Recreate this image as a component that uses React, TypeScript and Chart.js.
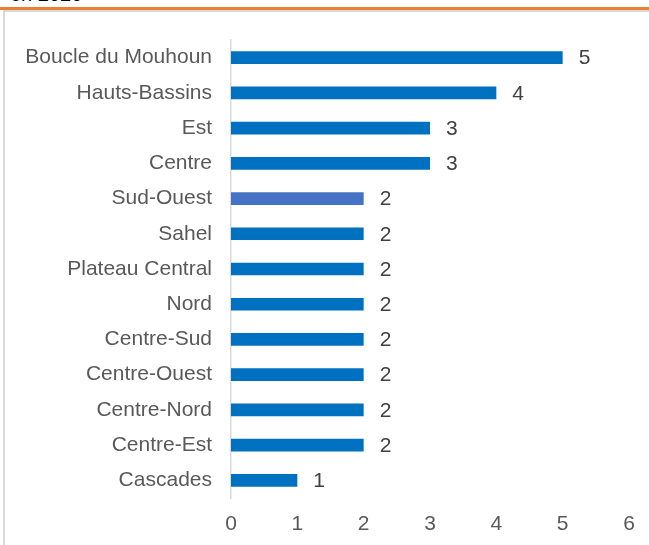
import React, { useEffect, useRef } from "react";
import { Chart, registerables } from "chart.js";

Chart.register(...registerables);

const categories = [
  "Boucle du Mouhoun",
  "Hauts-Bassins",
  "Est",
  "Centre",
  "Sud-Ouest",
  "Sahel",
  "Plateau Central",
  "Nord",
  "Centre-Sud",
  "Centre-Ouest",
  "Centre-Nord",
  "Centre-Est",
  "Cascades",
];
const values = [5, 4, 3, 3, 2, 2, 2, 2, 2, 2, 2, 2, 1];
const xTicks = [0, 1, 2, 3, 4, 5, 6];
const highlighted = "Sud-Ouest";

const FONT = "'Liberation Sans', Arial, sans-serif";

const valueLabels = {
  id: "valueLabels",
  afterDatasetsDraw(chart: any) {
    const ctx = chart.ctx;
    const meta = chart.getDatasetMeta(0);
    ctx.save();
    ctx.font = `21px ${FONT}`;
    ctx.fillStyle = "#404040";
    ctx.textAlign = "left";
    ctx.textBaseline = "middle";
    meta.data.forEach((bar: any, i: number) => {
      ctx.fillText(String(values[i]), bar.x + 16, bar.y + 1);
    });
    ctx.restore();
  },
};

export default function App() {
  const ref = useRef<HTMLCanvasElement | null>(null);
  useEffect(() => {
    if (!ref.current) return;
    const chart = new Chart(ref.current, {
      type: "bar",
      data: {
        labels: categories,
        datasets: [
          {
            data: values,
            backgroundColor: categories.map((c) => (c === highlighted ? "#4472C4" : "#0070C0")),
            borderWidth: 0,
            categoryPercentage: 1,
            barPercentage: 0.36,
          },
        ],
      },
      options: {
        indexAxis: "y",
        animation: false,
        responsive: false,
        maintainAspectRatio: false,
        layout: { padding: { top: 40, right: 20, left: 0, bottom: 0 } },
        plugins: { legend: { display: false }, tooltip: { enabled: false } },
        scales: {
          x: {
            min: 0,
            max: 6,
            afterFit: (s: any) => {
              s.height = 47;
            },
            afterBuildTicks: (s: any) => {
              s.ticks = xTicks.map((v) => ({ value: v }));
            },
            grid: { display: false, drawTicks: false },
            border: { display: false },
            ticks: {
              color: "#595959",
              font: { family: FONT, size: 21 },
              padding: 14,
            },
          },
          y: {
            afterFit: (s: any) => {
              s.width = 231;
            },
            grid: { display: false, drawTicks: false },
            border: { display: true, color: "#D9D9D9", width: 1.5 },
            ticks: {
              color: "#595959",
              font: { family: FONT, size: 21 },
              padding: 19,
              autoSkip: false,
            },
          },
        },
      },
      plugins: [valueLabels],
    });
    return () => chart.destroy();
  }, []);

  return (
    <div
      style={{
        position: "absolute",
        left: 0,
        top: 0,
        width: 649,
        height: 545,
        overflow: "hidden",
        background: "#fff",
      }}
    >
      <div
        style={{
          position: "absolute",
          left: 10,
          top: -17,
          fontFamily: FONT,
          fontSize: 20,
          color: "#000",
          whiteSpace: "nowrap",
        }}
      >
        en 2020
      </div>
      <div
        style={{
          position: "absolute",
          left: 0,
          top: 7,
          width: 649,
          height: 3,
          background: "#ED7D31",
        }}
      />
      <div
        style={{
          position: "absolute",
          left: 3,
          top: 10,
          width: 700,
          height: 600,
          borderLeft: "2px solid #D9D9D9",
          borderTop: "2px solid #D9D9D9",
          boxSizing: "border-box",
        }}
      />
      <canvas
        ref={ref}
        width={649}
        height={545}
        style={{ position: "absolute", left: 0, top: 0, display: "block" }}
      />
    </div>
  );
}
